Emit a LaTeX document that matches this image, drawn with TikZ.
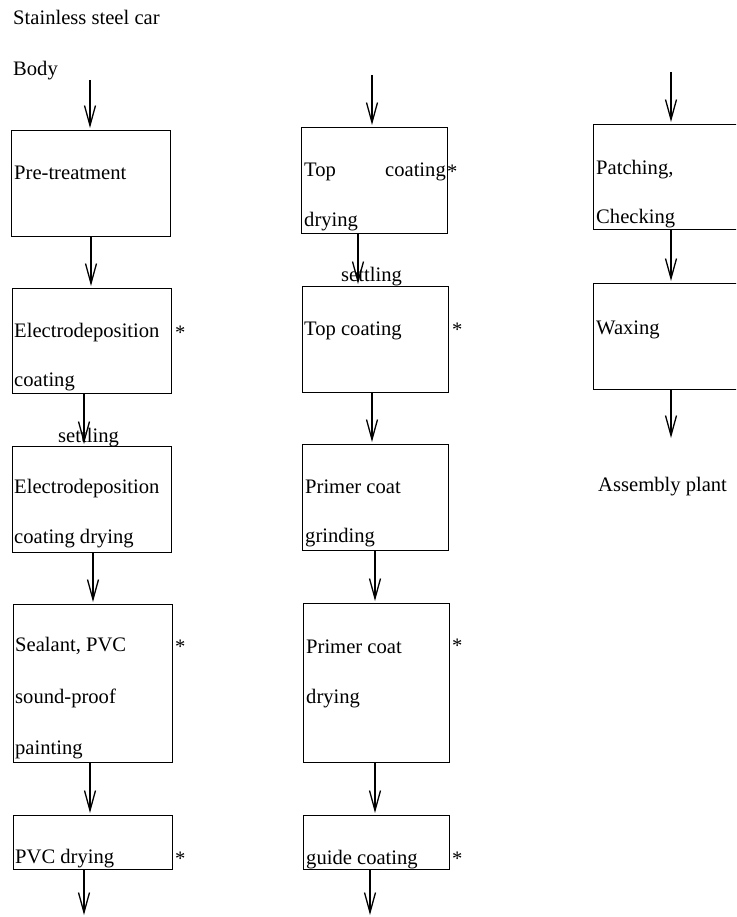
\documentclass[tikz,border=0pt]{standalone}
\usepackage{fontspec}
\setmainfont{Liberation Serif}
\usetikzlibrary{arrows.meta}
\begin{document}
\begin{tikzpicture}[x=1pt,y=-1pt,
  txt/.style={font=\fontsize{20.6}{24}\selectfont, inner sep=0pt, anchor=base west},
  txtr/.style={font=\fontsize{20.6}{24}\selectfont, inner sep=0pt, anchor=base east},
  stepbox/.style={draw, line width=1.2pt, anchor=north west, inner sep=0pt},
  arr/.style={line width=1.5pt, -{Straight Barb[length=20pt,width=11pt,line width=1.3pt]}, shorten >=2pt}]
\useasboundingbox (0,0) rectangle (736,917);
\clip (0,0) rectangle (736,917);
\fill[white] (0,0) rectangle (736,917);

% ---------- column 1 ----------
\node[txt] (t0a) at (13,25) {Stainless steel car};
\node[txt] (t0b) at (13,76) {Body};
\coordinate (s1) at (90,80);
\node[stepbox, minimum width=159pt, minimum height=106pt] (b1) at (11,130) {};
\node[txt] (t1) at (14,180) {Pre-treatment};
\node[stepbox, minimum width=159pt, minimum height=105pt] (b2) at (12,288) {};
\node[txt] (t2a) at (14,337) {Electrodeposition};
\node[txt] (t2b) at (14,386) {coating};
\node[txt] (st2) at (175,339) {*};
\node[txt] (set1) at (58,442) {settling};
\node[stepbox, minimum width=159pt, minimum height=106pt] (b3) at (12,446) {};
\node[txt] (t3a) at (14,493) {Electrodeposition};
\node[txt] (t3b) at (14,543) {coating drying};
\node[stepbox, minimum width=159pt, minimum height=158pt] (b4) at (13,604) {};
\node[txt] (t4a) at (15,651) {Sealant, PVC};
\node[txt] (t4b) at (15,703) {sound-proof};
\node[txt] (t4c) at (15,754) {painting};
\node[txt] (st4) at (175,653) {*};
\node[stepbox, minimum width=159pt, minimum height=54pt] (b5) at (13,815) {};
\node[txt] (t5) at (15,863) {PVC drying};
\node[txt] (st5) at (175,865) {*};
\coordinate (e1) at (84,917);

\draw[arr] (s1) -- (b1.north -| 90,0);
\draw[arr] (b1.south -| 91,0) -- (b2.north -| 91,0);
\draw[arr] (b2.south -| 84,0) -- (b3.north -| 84,0);
\draw[arr] (b3.south -| 93,0) -- (b4.north -| 93,0);
\draw[arr] (b4.south -| 90,0) -- (b5.north -| 90,0);
\draw[arr] (b5.south -| 84,0) -- (e1);

% ---------- column 2 ----------
\coordinate (s2) at (372,75);
\node[stepbox, minimum width=146pt, minimum height=106pt] (c1) at (301,127) {};
\node[txt] (u1a) at (304,177) {Top};
\node[txtr] (u1b) at (446,177) {coating};
\node[txt] (su1) at (447,179) {*};
\node[txt] (u1c) at (304,226) {drying};
\node[txt] (set2) at (341,281) {settling};
\node[stepbox, minimum width=146pt, minimum height=106pt] (c2) at (302,286) {};
\node[txt] (u2) at (304,335) {Top coating};
\node[txt] (su2) at (452,336) {*};
\node[stepbox, minimum width=146pt, minimum height=106pt] (c3) at (302,444) {};
\node[txt] (u3a) at (305,493) {Primer coat};
\node[txt] (u3b) at (305,542) {grinding};
\node[stepbox, minimum width=146pt, minimum height=159pt] (c4) at (303,603) {};
\node[txt] (u4a) at (306,653) {Primer coat};
\node[txt] (u4b) at (306,703) {drying};
\node[txt] (su4) at (452,652) {*};
\node[stepbox, minimum width=146pt, minimum height=54pt] (c5) at (303,815) {};
\node[txt] (u5) at (306,864) {guide coating};
\node[txt] (su5) at (452,865) {*};
\coordinate (e2) at (370,917);

\draw[arr] (s2) -- (c1.north -| 372,0);
\draw[arr] (c1.south -| 358,0) -- (c2.north -| 358,0);
\draw[arr] (c2.south -| 372,0) -- (c3.north -| 372,0);
\draw[arr] (c3.south -| 375,0) -- (c4.north -| 375,0);
\draw[arr] (c4.south -| 375,0) -- (c5.north -| 375,0);
\draw[arr] (c5.south -| 370,0) -- (e2);

% ---------- column 3 ----------
\coordinate (s3) at (671,72);
\node[stepbox, minimum width=152pt, minimum height=105pt] (d1) at (593,124) {};
\node[txt] (v1a) at (596,175) {Patching,};
\node[txt] (v1b) at (596,224) {Checking};
\node[stepbox, minimum width=152pt, minimum height=106pt] (d2) at (593,283) {};
\node[txt] (v2) at (596,334) {Waxing};
\coordinate (e3) at (671,440);
\node[txt] (v3) at (598,491) {Assembly plant};

\draw[arr] (s3) -- (d1.north -| 671,0);
\draw[arr] (d1.south -| 671,0) -- (d2.north -| 671,0);
\draw[arr] (d2.south -| 671,0) -- (e3);
\end{tikzpicture}
\end{document}
